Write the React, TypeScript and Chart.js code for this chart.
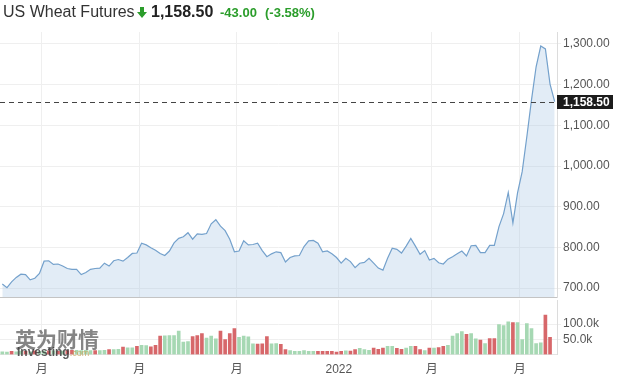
import React, { useEffect, useRef } from "react";
import { Chart, registerables } from "chart.js";

Chart.register(...registerables);

// ---------- header texts ----------
const titleText = "US Wheat Futures";
const lastPriceText = "1,158.50";
const changeText = "-43.00";
const changePctText = "(-3.58%)";
const logoCnText = "英为财情";
const logoEnText = "Investing";
const logoDomText = ".com";

// ---------- daily closes (Sep 20 2021 .. Mar 10 2022) ----------
const priceValues = [
  710, 701, 715, 726, 734, 733, 720, 724, 736, 766,
  767, 758, 759, 754, 748, 746, 746, 733, 738, 746,
  748, 749, 761, 754, 767, 770, 766, 775, 785, 786,
  810, 806, 799, 793, 785, 780, 791, 811, 822, 826,
  836, 820, 833, 832, 834, 858, 868, 852, 841, 820,
  789, 791, 816, 806, 807, 810, 792, 777, 784, 789,
  787, 764, 775, 779, 780, 802, 816, 817, 810, 789,
  791, 784, 775, 761, 773, 765, 750, 761, 763, 773,
  761, 749, 744, 773, 798, 795, 786, 803, 822, 803,
  783, 792, 769, 773, 762, 759, 771, 777, 784, 791,
  779, 804, 805, 787, 787, 805, 805, 851, 883, 935,
  860, 934, 986, 1072, 1162, 1244, 1295, 1288, 1201.5, 1158.5,
];

// ---------- daily volume, thousands ----------
const volumeValues = [
  9, 8, 10, 9, 11, 10, 9, 12, 10, 11,
  12, 12, 10, 11, 13, 14, 14, 13, 14, 13,
  13, 13, 14, 16, 16, 17, 24, 22, 22, 27,
  30, 29, 25, 30, 60, 61, 62, 62, 77, 41,
  42, 59, 62, 69, 54, 60, 51, 77, 49, 69,
  85, 56, 60, 58, 35, 34, 35, 59, 35, 36,
  33, 16, 13, 10, 10, 13, 10, 10, 10, 10,
  10, 10, 8, 10, 12, 11, 16, 20, 16, 14,
  21, 17, 21, 27, 27, 20, 17, 21, 27, 27,
  16, 13, 21, 21, 23, 27, 30, 60, 69, 75,
  66, 69, 51, 47, 36, 52, 52, 98, 95, 107,
  105, 105, 49, 101, 85, 36, 38, 129, 56, null,
];
// g = up (green), r = down (red)
const volumeDir =
  "ggrggrgrgg" + "rgrgrrgggg" + "rggrggrggr" + "ggrrrggggg" + "grrrgggrrr" +
  "rggggrrrgg" + "rrggggggrr" + "rrrrgrrggg" + "rrrggrrggr" + "rgrgrrgggg" +
  "rggrgrrggg" + "rggggggrr-";

// ---------- axis ticks ----------
const monthTickIdx = [9, 30, 51, 73, 93, 112];
const monthTickLabels = ["月", "月", "月", "2022", "月", "月"];
const priceTicks = [700, 800, 900, 1000, 1100, 1200, 1300];
const volumeTicks = [50, 100];

const FONT = "'Liberation Sans', Arial, 'Noto Sans CJK SC', sans-serif";
const GREEN_TXT = "#2b9d2b";
const LINE = "#74a1cc";
const FILL = "rgba(170,200,228,0.34)";
const BAR_G = "#a6d8b3";
const BAR_R = "#d7676a";
const GRID = "#efefef";
const TICK_TXT = "#555555";

const N = priceValues.length;
const lastPrice = priceValues[N - 1];

const xTickValues = monthTickIdx.map((i) => i - 0.5);

function monthLabel(v: number): string {
  const k = monthTickIdx.indexOf(Math.round(v + 0.5));
  return k >= 0 ? monthTickLabels[k] : "";
}

function noPad(s: any) {
  s.paddingTop = 0;
  s.paddingBottom = 0;
  s.paddingLeft = 0;
  s.paddingRight = 0;
}

const lastPricePlugin = {
  id: "lastPrice",
  afterDraw(chart: any) {
    const { ctx, chartArea } = chart;
    const y = Math.round(chart.scales.y.getPixelForValue(lastPrice)) + 0.5;
    ctx.save();
    ctx.strokeStyle = "#444";
    ctx.lineWidth = 1;
    ctx.setLineDash([5, 4]);
    ctx.beginPath();
    ctx.moveTo(chartArea.left, y);
    ctx.lineTo(chartArea.right, y);
    ctx.stroke();
    ctx.setLineDash([]);
    ctx.fillStyle = "#1c1c1c";
    ctx.fillRect(chartArea.right, y - 7.5, 56, 14);
    ctx.fillStyle = "#ffffff";
    ctx.font = `bold 12px ${FONT}`;
    ctx.textBaseline = "middle";
    ctx.textAlign = "left";
    ctx.fillText(
      lastPrice.toLocaleString("en-US", { minimumFractionDigits: 2, maximumFractionDigits: 2 }),
      chartArea.right + 6,
      y + 0.5
    );
    ctx.restore();
  },
};

export default function App() {
  const priceRef = useRef<HTMLCanvasElement | null>(null);
  const volRef = useRef<HTMLCanvasElement | null>(null);

  useEffect(() => {
    const priceChart = new Chart(priceRef.current as HTMLCanvasElement, {
      type: "line",
      data: {
        datasets: [
          {
            data: priceValues.map((v, i) => ({ x: i, y: v })),
            borderColor: LINE,
            borderWidth: 1.2,
            backgroundColor: FILL,
            fill: "start",
            pointRadius: 0,
            tension: 0,
          },
        ],
      },
      options: {
        animation: false,
        responsive: false,
        devicePixelRatio: 1,
        layout: { autoPadding: false, padding: { top: 32, bottom: 1, left: 0, right: 0 } },
        plugins: { legend: { display: false }, tooltip: { enabled: false } },
        scales: {
          x: {
            type: "linear",
            min: -0.5,
            max: N - 0.5,
            afterBuildTicks: (s: any) => {
              s.ticks = xTickValues.map((v) => ({ value: v }));
            },
            ticks: { display: false },
            grid: { color: GRID, drawTicks: false },
            border: { display: true, color: "#c4c4c4" },
            afterFit: (s: any) => {
              s.height = 0;
              noPad(s);
            },
          },
          y: {
            position: "right",
            min: 677.9,
            max: 1329.5,
            afterBuildTicks: (s: any) => {
              s.ticks = priceTicks.map((v) => ({ value: v }));
            },
            afterFit: (s: any) => {
              s.width = 60;
              noPad(s);
            },
            ticks: {
              padding: 2,
              color: TICK_TXT,
              font: { family: FONT, size: 12 },
              callback: (v: any) =>
                Number(v).toLocaleString("en-US", { minimumFractionDigits: 2, maximumFractionDigits: 2 }),
            },
            grid: { color: GRID, tickLength: 4 },
            border: { color: "#dcdcdc" },
          },
        },
      } as any,
      plugins: [lastPricePlugin],
    });

    const volChart = new Chart(volRef.current as HTMLCanvasElement, {
      type: "bar",
      data: {
        datasets: [
          {
            data: volumeValues.map((v, i) => ({ x: i, y: v })),
            backgroundColor: volumeDir.split("").map((c) => (c === "g" ? BAR_G : BAR_R)),
            barThickness: 3,
            borderWidth: 0,
          },
        ],
      },
      options: {
        animation: false,
        responsive: false,
        devicePixelRatio: 1,
        layout: { autoPadding: false, padding: { top: 2, bottom: 0, left: 0, right: 0 } },
        plugins: { legend: { display: false }, tooltip: { enabled: false } },
        scales: {
          x: {
            type: "linear",
            offset: false,
            min: -0.5,
            max: N - 0.5,
            afterBuildTicks: (s: any) => {
              s.ticks = xTickValues.map((v) => ({ value: v }));
            },
            ticks: {
              autoSkip: false,
              maxRotation: 0,
              padding: 8,
              color: TICK_TXT,
              font: { family: FONT, size: 12 },
              callback: (v: any) => monthLabel(Number(v)),
            },
            grid: { color: GRID, drawTicks: false, offset: false },
            border: { display: true, color: "#e4e4e4" },
            afterFit: (s: any) => {
              s.height = 29.5;
              noPad(s);
            },
          },
          y: {
            position: "right",
            min: 0,
            max: 178.7,
            afterBuildTicks: (s: any) => {
              s.ticks = volumeTicks.map((v) => ({ value: v }));
            },
            afterFit: (s: any) => {
              s.width = 60;
              noPad(s);
            },
            ticks: {
              padding: 2,
              color: TICK_TXT,
              font: { family: FONT, size: 12 },
              callback: (v: any) => Number(v).toFixed(1) + "k",
            },
            grid: { color: GRID, tickLength: 4 },
            border: { color: "#dcdcdc" },
          },
        },
      } as any,
    });

    return () => {
      priceChart.destroy();
      volChart.destroy();
    };
  }, []);

  return (
    <div
      style={{
        position: "absolute",
        left: 0,
        top: 0,
        width: 617,
        height: 384,
        background: "#ffffff",
        fontFamily: FONT,
        overflow: "hidden",
      }}
    >
      <canvas ref={priceRef} width={617} height={298} style={{ position: "absolute", left: 0, top: 0 }} />
      <canvas ref={volRef} width={617} height={86} style={{ position: "absolute", left: 0, top: 298 }} />

      {/* header */}
      <div style={{ position: "absolute", left: 3, top: 3, fontSize: 16, lineHeight: "18px", color: "#333", whiteSpace: "nowrap" }}>
        {titleText}
      </div>
      <svg width={10} height={11} viewBox="0 0 10 11" style={{ position: "absolute", left: 137, top: 6.5 }}>
        <path d="M3 0 H7 V5 H10 L5 11 L0 5 H3 Z" fill={GREEN_TXT} />
      </svg>
      <div style={{ position: "absolute", left: 151, top: 3, fontSize: 16, lineHeight: "18px", fontWeight: "bold", color: "#222", whiteSpace: "nowrap" }}>
        {lastPriceText}
      </div>
      <div style={{ position: "absolute", left: 220, top: 5, fontSize: 13, lineHeight: "16px", fontWeight: "bold", color: GREEN_TXT, whiteSpace: "nowrap" }}>
        {changeText}
      </div>
      <div style={{ position: "absolute", left: 265, top: 5, fontSize: 13, lineHeight: "16px", fontWeight: "bold", color: GREEN_TXT, whiteSpace: "nowrap" }}>
        {changePctText}
      </div>

      {/* watermark */}
      <div
        style={{
          position: "absolute",
          left: 15,
          top: 326,
          fontFamily: "'Noto Sans CJK SC', sans-serif",
          fontWeight: "bold",
          fontSize: 21,
          lineHeight: "24px",
          letterSpacing: 0,
          color: "#707070",
          opacity: 0.85,
          whiteSpace: "nowrap",
        }}
      >
        {logoCnText}
      </div>
      <div style={{ position: "absolute", left: 17, top: 346, fontSize: 12, lineHeight: "13px", fontWeight: "bold", color: "#3f3f3f", opacity: 0.85, whiteSpace: "nowrap" }}>
        {logoEnText}
        <span style={{ fontSize: 9, color: "#c9a35a", fontWeight: "normal" }}>{logoDomText}</span>
      </div>
    </div>
  );
}
